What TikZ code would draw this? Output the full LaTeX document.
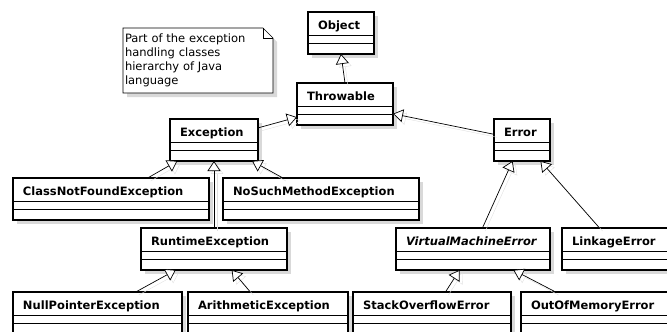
\documentclass[tikz,border=0pt]{standalone}
\usepackage{fontspec}
\setmainfont{DejaVu Sans}
\usetikzlibrary{arrows.meta,shadows,backgrounds}

\tikzset{
    cls/.style={draw, line width=1.5pt, fill=white, anchor=north west, outer sep=0pt,
        inner xsep=10pt, inner ysep=0pt, text height=17pt, text depth=25pt, align=left,
        font=\bfseries\fontsize{11.5}{14}\selectfont,
        drop shadow={shadow xshift=4pt, shadow yshift=-4pt, fill=black!15, opacity=1}},
    sepline/.style={line width=0.9pt},
    gen/.style={-{Triangle[length=10pt, width=13pt, fill=white]}, line width=0.7pt,
        preaction={draw=black!12, -{Triangle[length=10pt, width=13pt, open]},
            transform canvas={shift={(3pt,-3pt)}}}},
    notebox/.style={anchor=north west, minimum width=150pt, minimum height=65pt,
        text width=146pt, inner sep=2pt, align=left, outer sep=0pt,
        font=\fontsize{11.5}{14}\selectfont}
}

\begin{document}
\begin{tikzpicture}[x=1pt, y=-1pt]
    \useasboundingbox (0,0) rectangle (667,332);

    % Note
    \node[notebox] (note) at (123,28) {Part of the exception\\handling classes\\hierarchy of Java\\language};
    \begin{scope}[on background layer]
        \fill[black!15] ([shift={(4pt,-4pt)}]note.north west) -- ([shift={(-6pt,-4pt)}]note.north east)
            -- ([shift={(4pt,-14pt)}]note.north east) -- ([shift={(4pt,-4pt)}]note.south east)
            -- ([shift={(4pt,-4pt)}]note.south west) -- cycle;
        \draw[fill=white, line width=0.6pt] (note.north west) -- ([xshift=-10pt]note.north east)
            -- ([yshift=-10pt]note.north east) -- (note.south east) -- (note.south west) -- cycle;
        \draw[line width=0.6pt] ([xshift=-10pt]note.north east) -- ([xshift=-10pt, yshift=-10pt]note.north east)
            -- ([yshift=-10pt]note.north east);
    \end{scope}

    % Classes (top left corner, text width = box width - 20)
    \node[cls, text width=46pt]  (object)        at (308,12)  {Object};
    \node[cls, text width=76pt]  (throwable)     at (297,83)  {Throwable};
    \node[cls, text width=68pt]  (exception)     at (170,119) {Exception};
    \node[cls, text width=36pt]  (error)         at (494,119) {Error};
    \node[cls, text width=176pt] (classnotfound) at (13,178)  {ClassNotFoundException};
    \node[cls, text width=176pt] (nosuchmethod)  at (223,178) {NoSuchMethodException};
    \node[cls, text width=126pt] (runtime)       at (141,228) {RuntimeException};
    \node[cls, text width=134pt] (vmerror)       at (396,228) {\itshape VirtualMachineError};
    \node[cls, text width=92pt]  (linkage)       at (562,228) {LinkageError};
    \node[cls, text width=149pt] (nullpointer)   at (13,292)  {NullPointerException};
    \node[cls, text width=140pt] (arithmetic)    at (188,292) {ArithmeticException};
    \node[cls, text width=138pt] (stackoverflow) at (353,292) {StackOverflowError};
    \node[cls, text width=130pt] (outofmemory)   at (521,292) {OutOfMemoryError};

    % Attribute and operation compartments
    \foreach \n in {object, throwable, exception, error, classnotfound, nosuchmethod, runtime,
                    vmerror, linkage, nullpointer, arithmetic, stackoverflow, outofmemory} {
        \draw[sepline] ([yshift=-23pt]\n.north west) -- ([yshift=-23pt]\n.north east);
        \draw[sepline] ([yshift=-31pt]\n.north west) -- ([yshift=-31pt]\n.north east);
    }

    % Generalizations
    \draw[gen] (throwable.north) -- (object.south);
    \foreach \a/\b in {exception/throwable, error/throwable,
                       classnotfound/exception, runtime/exception, nosuchmethod/exception,
                       vmerror/error, linkage/error,
                       nullpointer/runtime, arithmetic/runtime,
                       stackoverflow/vmerror, outofmemory/vmerror} {
        \draw[gen] (\a) -- (\b);
    }
\end{tikzpicture}
\end{document}
